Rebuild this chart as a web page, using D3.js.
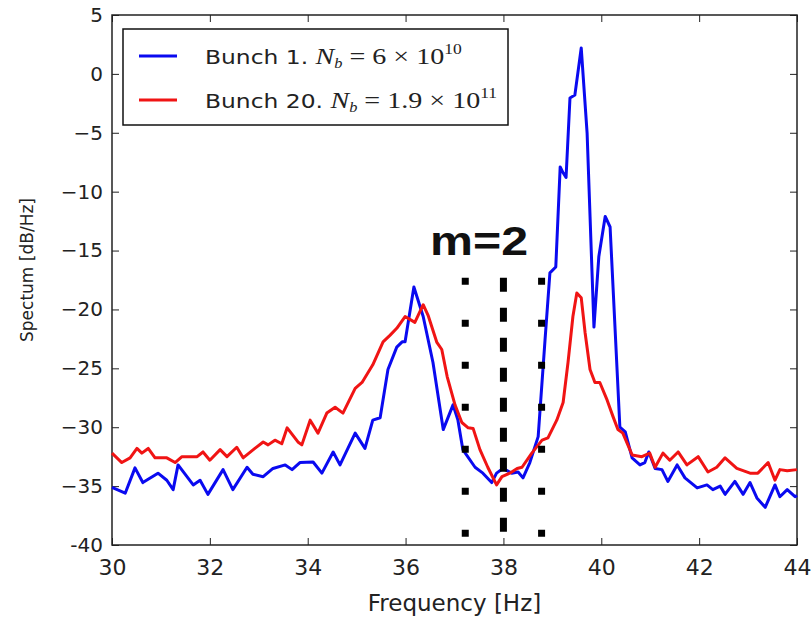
<!DOCTYPE html>
<html>
<head>
<meta charset="utf-8">
<script src="https://cdnjs.cloudflare.com/ajax/libs/d3/7.8.5/d3.min.js"></script>
<style>
  body { margin: 0; background: #fff; }
  svg { display: block; }
</style>
</head>
<body>
<svg id="chart" width="812" height="618"></svg>
<script>
// Bunch 1 spectrum (blue)
var bunch1Freq = [30.0,30.27,30.47,30.63,30.94,31.12,31.25,31.35,31.66,31.8,31.96,32.27,32.47,32.76,32.88,33.09,33.29,33.54,33.68,33.84,34.11,34.29,34.52,34.66,34.97,35.17,35.33,35.48,35.64,35.82,35.93,35.99,36.17,36.36,36.56,36.77,36.97,37.07,37.17,37.42,37.58,37.76,37.86,37.99,38.17,38.3,38.4,38.54,38.71,38.85,38.95,39.07,39.16,39.22,39.28,39.36,39.46,39.59,39.71,39.85,39.95,40.08,40.18,40.38,40.49,40.63,40.79,40.89,40.97,41.1,41.24,41.36,41.55,41.71,41.96,42.16,42.28,42.43,42.53,42.73,42.9,43.04,43.18,43.35,43.55,43.65,43.8,43.96,44.0];
var bunch1Spec = [-35.1,-35.6,-33.45,-34.7,-33.9,-34.5,-35.3,-33.2,-34.9,-34.5,-35.7,-33.6,-35.3,-33.4,-34.0,-34.2,-33.5,-33.2,-33.6,-33.0,-32.95,-33.9,-32.1,-33.2,-30.5,-31.8,-29.4,-29.2,-25.1,-23.2,-22.75,-22.75,-18.1,-20.6,-24.5,-30.2,-28.1,-29.4,-31.9,-33.4,-33.9,-34.7,-33.9,-33.5,-33.9,-33.8,-34.3,-33.0,-30.8,-22.6,-16.9,-16.4,-7.9,-8.4,-8.8,-2.05,-1.8,2.2,-5.0,-21.5,-15.5,-12.1,-13.0,-30.0,-30.4,-32.6,-33.2,-33.0,-32.1,-33.5,-33.6,-34.6,-33.2,-34.3,-35.15,-34.9,-35.3,-35.0,-35.7,-34.6,-35.7,-34.7,-36.0,-36.8,-34.9,-35.9,-35.3,-35.9,-35.8];

// Bunch 20 spectrum (red)
var bunch20Freq = [30.0,30.2,30.37,30.51,30.61,30.74,30.88,31.12,31.29,31.43,31.74,31.86,32.0,32.21,32.35,32.55,32.68,32.92,33.09,33.19,33.33,33.47,33.58,33.8,33.88,34.05,34.21,34.39,34.56,34.72,34.97,35.11,35.33,35.54,35.68,35.82,35.99,36.19,36.36,36.46,36.64,36.74,36.85,37.01,37.15,37.28,37.38,37.52,37.68,37.86,37.97,38.13,38.28,38.38,38.58,38.79,38.91,39.09,39.22,39.32,39.42,39.5,39.59,39.67,39.77,39.87,39.97,40.12,40.24,40.34,40.44,40.63,40.83,40.99,41.1,41.26,41.4,41.57,41.75,41.98,42.18,42.36,42.53,42.77,43.04,43.2,43.41,43.55,43.65,43.8,44.0];
var bunch20Spec = [-32.2,-33.0,-32.6,-31.8,-32.2,-31.8,-32.6,-32.6,-33.0,-32.5,-32.5,-32.1,-32.8,-31.9,-32.5,-31.7,-32.6,-31.8,-31.25,-31.5,-31.1,-31.4,-30.05,-31.25,-31.5,-29.4,-30.5,-28.8,-28.3,-28.8,-26.7,-26.2,-24.7,-22.75,-22.2,-21.6,-20.6,-21.1,-19.6,-20.5,-22.8,-23.4,-25.7,-28.1,-29.6,-30.05,-30.1,-31.9,-33.4,-34.9,-34.2,-33.9,-33.5,-33.4,-32.2,-31.1,-30.9,-29.4,-27.9,-24.5,-20.6,-18.6,-19.0,-22.0,-25.1,-26.2,-26.2,-27.7,-29.1,-30.2,-30.5,-32.35,-32.5,-32.2,-33.4,-32.2,-32.8,-32.1,-33.2,-32.5,-33.8,-33.4,-32.6,-33.5,-33.9,-33.9,-33.0,-34.5,-33.6,-33.7,-33.6];

var xTicks = [30, 32, 34, 36, 38, 40, 42, 44];
var yTicks = [5, 0, -5, -10, -15, -20, -25, -30, -35, -40];

// m=2 sideband markers: center line and the two outer lines
var markerFreqs = [37.22, 38.0, 38.78];
var markerRange = [-17.3, -39.3];

var svg = d3.select("#chart");
var margin = {top: 15, right: 15, bottom: 73, left: 112};
var width = 812 - margin.left - margin.right;
var height = 618 - margin.top - margin.bottom;

var g = svg.append("g")
    .attr("transform", "translate(" + margin.left + "," + margin.top + ")");

var x = d3.scaleLinear().domain([30, 44]).range([0, width]);
var y = d3.scaleLinear().domain([-40, 5]).range([height, 0]);

function minus(d) {
    if (d == -40) return "-40";
    return d < 0 ? "\u2212" + Math.abs(d) : String(d);
}

var xAxis = d3.axisBottom(x).tickValues(xTicks).tickSizeInner(-7).tickSizeOuter(0).tickPadding(14).tickFormat(d3.format("d"));
var yAxis = d3.axisLeft(y).tickValues(yTicks).tickSizeInner(-7).tickSizeOuter(0).tickPadding(9).tickFormat(minus);
var xTop = d3.axisTop(x).tickValues(xTicks).tickSizeInner(-7).tickSizeOuter(0).tickFormat("");
var yRight = d3.axisRight(y).tickValues(yTicks).tickSizeInner(-7).tickSizeOuter(0).tickFormat("");

var gx = g.append("g").attr("class", "axis").attr("transform", "translate(0," + height + ")").call(xAxis);
g.append("g").attr("class", "axis").call(yAxis);
g.append("g").attr("class", "axis").call(xTop);
g.append("g").attr("class", "axis").attr("transform", "translate(" + width + ",0)").call(yRight);

g.selectAll(".axis text")
    .style("font-family", "DejaVu Sans")
    .style("font-size", "20px")
    .attr("fill", "#222");
gx.selectAll("text").style("font-size", "22px");
g.selectAll(".axis .tick line").attr("stroke", "#222");
g.selectAll(".axis path.domain").remove();

g.append("rect")
    .attr("width", width)
    .attr("height", height)
    .attr("fill", "none")
    .attr("stroke", "#222")
    .attr("stroke-width", 1.5);

var line = d3.line()
    .x(function(d) { return x(d[0]); })
    .y(function(d) { return y(d[1]); });

var series = [
    {freq: bunch1Freq, spec: bunch1Spec, color: "#0a0af0"},
    {freq: bunch20Freq, spec: bunch20Spec, color: "#f01414"}
];

series.forEach(function(s) {
    var pts = s.freq.map(function(f, i) { return [f, s.spec[i]]; });
    g.append("path")
        .datum(pts)
        .attr("d", line)
        .attr("fill", "none")
        .attr("stroke", s.color)
        .attr("stroke-width", 3)
        .attr("stroke-linejoin", "round");
});

// dotted marker lines
markerFreqs.forEach(function(f, i) {
    var center = (i == 1);
    g.append("line")
        .attr("x1", x(f)).attr("x2", x(f))
        .attr("y1", y(markerRange[0])).attr("y2", y(markerRange[1]))
        .attr("stroke", "#000")
        .attr("stroke-width", 7)
        .attr("stroke-dasharray", center ? "14,16" : "7,35");
});

g.append("text")
    .attr("x", x(36.5))
    .attr("y", y(-15.4))
    .attr("font-family", "Liberation Sans, Arial, sans-serif")
    .attr("font-weight", "bold")
    .attr("font-size", 40)
    .attr("textLength", 98)
    .attr("lengthAdjust", "spacingAndGlyphs")
    .attr("fill", "#111")
    .text("m=2");

// axis labels
svg.append("text")
    .attr("x", margin.left + width / 2)
    .attr("y", 611)
    .attr("text-anchor", "middle")
    .style("font-family", "DejaVu Sans")
    .style("font-size", "23px")
    .attr("fill", "#222")
    .text("Frequency [Hz]");

svg.append("g")
    .attr("transform", "translate(33," + (margin.top + height / 2 - 10) + ")")
    .append("text")
    .attr("text-anchor", "middle")
    .attr("transform", "rotate(-90)")
    .style("font-family", "DejaVu Sans")
    .style("font-size", "17px")
    .attr("fill", "#222")
    .text("Spectum [dB/Hz]");

// legend
var legendNames = ["Bunch 1. ", "Bunch 20. "];
var legendMant = ["6", "1.9"];
var legendExp = ["10", "11"];
var legendColors = ["#0a0af0", "#f01414"];

var legend = svg.append("g").attr("transform", "translate(123,29)");
legend.append("rect")
    .attr("width", 385)
    .attr("height", 96)
    .attr("fill", "#fff")
    .attr("stroke", "#111")
    .attr("stroke-width", 1.5);

legendNames.forEach(function(name, i) {
    var row = legend.append("g").attr("transform", "translate(0," + (27 + i * 44) + ")");
    row.append("line")
        .attr("x1", 16).attr("x2", 54)
        .attr("stroke", legendColors[i])
        .attr("stroke-width", 3);
    var t = row.append("text")
        .attr("transform", "translate(82,8) scale(1.17,1)")
        .attr("fill", "#222")
        .style("font-family", "DejaVu Sans")
        .style("font-size", "20px");
    t.append("tspan").text(name);
    t.append("tspan").style("font-family", "Liberation Serif").style("font-style", "italic").style("font-size", "24px").text("N");
    t.append("tspan").attr("dy", 4).style("font-family", "Liberation Serif").style("font-style", "italic").style("font-size", "14px").text("b");
    t.append("tspan").attr("dy", -4).style("font-family", "Liberation Serif").style("font-size", "24px").text(" = " + legendMant[i] + " \u00d7 10");
    t.append("tspan").attr("dy", -10).style("font-family", "Liberation Serif").style("font-size", "15px").text(legendExp[i]);
});
</script>
</body>
</html>
